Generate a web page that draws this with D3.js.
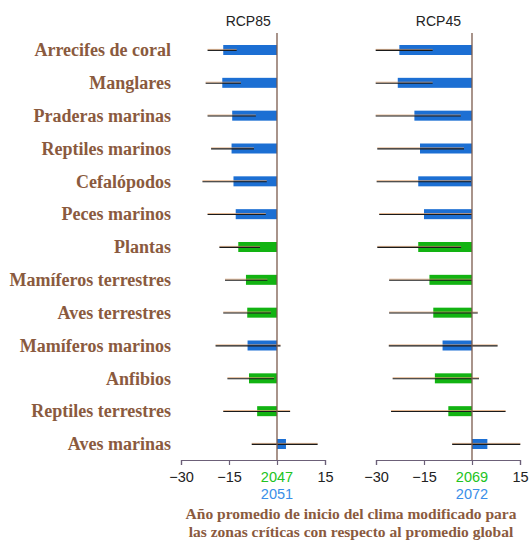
<!DOCTYPE html>
<html><head><meta charset="utf-8">
<script src="https://cdn.jsdelivr.net/npm/d3@7"></script>
<style>html,body{margin:0;padding:0;background:#fff;}</style>
</head><body>
<script>
const categories = ["Arrecifes de coral","Manglares","Praderas marinas","Reptiles marinos","Cefalópodos","Peces marinos","Plantas","Mamíferos terrestres","Aves terrestres","Mamíferos marinos","Anfibios","Reptiles terrestres","Aves marinas"];
const groups = ["marine","marine","marine","marine","marine","marine","land","land","land","marine","land","land","marine"];
// RCP85
const rcp85Mean = [-16.8,-17.1,-14.0,-14.2,-13.6,-12.9,-12.1,-9.7,-9.3,-9.2,-8.75,-6.2,2.8];
const rcp85Low  = [-21.7,-22.3,-21.7,-20.6,-23.3,-21.7,-18.0,-16.25,-16.8,-19.2,-15.5,-16.8,-7.9];
const rcp85High = [-12.6,-11.25,-6.6,-7.2,-3.2,-3.5,-5.3,-3.0,-1.9,1.1,-0.9,4.1,12.7];
// RCP45
const rcp45Mean = [-22.7,-23.2,-18.0,-16.25,-16.8,-15.0,-16.8,-13.3,-12.1,-9.2,-11.6,-7.4,4.8];
const rcp45Low  = [-30.1,-30.1,-30.1,-29.6,-29.8,-29.0,-29.6,-25.9,-25.9,-26.0,-24.8,-25.3,-6.2];
const rcp45High = [-12.3,-12.3,-3.5,-2.5,-0.3,0,-3.4,0,1.8,8.0,2.2,10.5,15.1];
const tickValues = [-30,-15,0,15];
const panelTitles = ["RCP85","RCP45"];
const yearsLand = ["2047","2069"];
const yearsMarine = ["2051","2072"];
const captionLines = ["Año promedio de inicio del clima modificado para","las zonas críticas con respecto al promedio global"];

const W=531,H=542;
const svg=d3.select("body").append("svg").attr("width",W).attr("height",H);
const y=d3.scalePoint().domain(categories).range([50,444]);
const colors={marine:"#1c6fd3",land:"#12b312"};
const labelColor="#8a5a3e";

// row labels
svg.append("g").selectAll("text").data(categories).join("text")
  .attr("x",171).attr("y",d=>y(d)).attr("dy","0.35em")
  .attr("text-anchor","end")
  .attr("font-family","'Liberation Serif','Times New Roman',serif")
  .attr("font-weight","bold").attr("font-size",18)
  .attr("fill",labelColor).text(d=>d);

const panels=[
  {x0:181,titleAt:-9,mean:rcp85Mean,low:rcp85Low,high:rcp85High},
  {x0:376,titleAt:-10.5,mean:rcp45Mean,low:rcp45Low,high:rcp45High}
];
const axisY=460;
panels.forEach((p,i)=>{
  const x=d3.scaleLinear().domain([-30,15]).range([p.x0,p.x0+144]);
  const g=svg.append("g");
  g.append("text").attr("x",x(p.titleAt)).attr("y",21).attr("dy","0.35em")
   .attr("text-anchor","middle").attr("font-family","'Liberation Sans',Arial,sans-serif")
   .attr("font-size",14).attr("fill","#222").text(panelTitles[i]);
  const rows=categories.map((c,j)=>({c,g:groups[j],m:p.mean[j],lo:p.low[j],hi:p.high[j]}));
  // bars
  g.selectAll("rect").data(rows).join("rect")
   .attr("x",d=>x(Math.min(0,d.m))).attr("width",d=>Math.abs(x(d.m)-x(0)))
   .attr("y",d=>y(d.c)-5).attr("height",10)
   .attr("fill",d=>colors[d.g]);
  // whiskers
  g.selectAll("line.wo").data(rows).join("line").attr("class","wo")
   .attr("x1",d=>x(d.lo)).attr("x2",d=>x(d.hi))
   .attr("y1",d=>y(d.c)-0.6).attr("y2",d=>y(d.c)-0.6)
   .attr("stroke","#d9a070").attr("stroke-width",0.8);
  g.selectAll("line.wb").data(rows).join("line").attr("class","wb")
   .attr("x1",d=>x(d.lo)).attr("x2",d=>x(d.hi))
   .attr("y1",d=>y(d.c)+0.4).attr("y2",d=>y(d.c)+0.4)
   .attr("stroke","#1a1a1a").attr("stroke-width",1.1);
  // zero line
  g.append("line").attr("x1",x(0)).attr("x2",x(0)).attr("y1",33).attr("y2",axisY)
   .attr("stroke","#7a5a4c").attr("stroke-width",1.3);
  // axis
  const ax=d3.axisBottom(x).tickValues(tickValues).tickSize(5).tickFormat(d=>d===0?"":d3.format("")(d).replace("-","\u2212"));
  const axg=g.append("g").attr("transform",`translate(0,${axisY})`).call(ax);
  axg.select(".domain").attr("stroke","#6c6078").attr("stroke-width",1.2);
  axg.selectAll(".tick line").attr("stroke","#6c6078").attr("stroke-width",1.2);
  axg.selectAll(".tick text").attr("font-family","'Liberation Sans',Arial,sans-serif")
   .attr("font-size",14.5).attr("fill","#222").attr("dy","0.95em").attr("y",8);
  g.append("text").attr("x",x(0)).attr("y",477).attr("dy","0.35em").attr("text-anchor","middle")
   .attr("font-family","'Liberation Sans',Arial,sans-serif").attr("font-size",14.5)
   .attr("fill","#22c322").text(yearsLand[i]);
  g.append("text").attr("x",x(0)).attr("y",494).attr("dy","0.35em").attr("text-anchor","middle")
   .attr("font-family","'Liberation Sans',Arial,sans-serif").attr("font-size",14.5)
   .attr("fill","#3a8ee8").text(yearsMarine[i]);
});
svg.append("g").selectAll("text").data(captionLines).join("text")
  .attr("x",351).attr("y",(d,i)=>514+i*18).attr("dy","0.35em").attr("text-anchor","middle")
  .attr("font-family","'Liberation Serif','Times New Roman',serif")
  .attr("font-weight","bold").attr("font-size",15.5).attr("fill",labelColor).text(d=>d);
</script>
</body></html>
